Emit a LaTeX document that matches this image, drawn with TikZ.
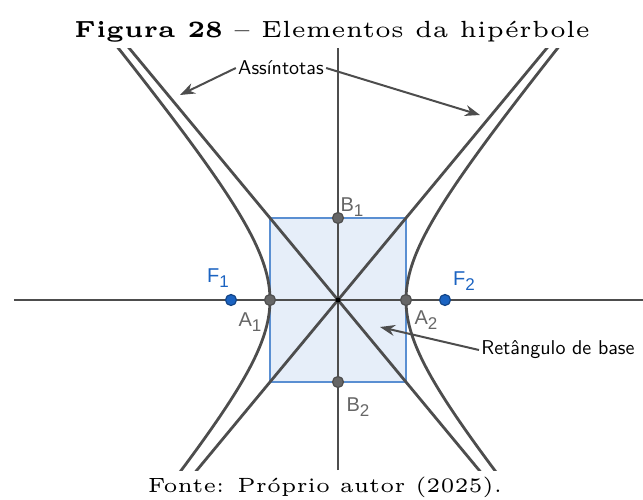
\documentclass[tikz,border=0pt]{standalone}
\usepackage{fontspec}
\newfontfamily\ptfont{Liberation Sans}
\newfontfamily\fontepeq[Ligatures=TeX, BoldFont=lmroman5-bold.otf]{lmroman5-regular.otf}
\usetikzlibrary{arrows.meta}
\definecolor{linha}{HTML}{4D4D4D}
\definecolor{azulret}{HTML}{5A8FD2}
\definecolor{fundoret}{HTML}{E6EEF9}
\definecolor{azulfoco}{HTML}{1B63C1}
\definecolor{cinzapt}{HTML}{666666}
\newcommand{\ind}[1]{\raisebox{-0.45ex}{\fontsize{8.5}{9}\selectfont #1}}
\tikzset{
  curva/.style={color=linha, line width=1.4pt},
  seta/.style={color=linha, line width=1pt, -{Stealth[length=7.5pt,width=5.5pt]}},
  ponto/.style={circle, draw=linha, fill=cinzapt, line width=0.6pt, inner sep=0pt, minimum size=5.5pt},
  foco/.style={circle, draw=azulfoco!70!black, fill=azulfoco, line width=0.6pt, inner sep=0pt, minimum size=5.5pt},
  rotpt/.style={text=cinzapt, font=\ptfont\fontsize{10}{12}\selectfont, inner sep=0pt},
  rotfoco/.style={text=azulfoco, font=\ptfont\fontsize{10}{12}\selectfont, inner sep=0pt},
  aviso/.style={font=\sffamily, inner sep=1pt}
}
\begin{document}
\begin{tikzpicture}[x=0.5pt, y=0.5pt]
        \useasboundingbox (-338,-199) rectangle (305,300);
        % retangulo de base
        \draw[fill=fundoret, draw=azulret, line width=1.2pt] (-68,-82) rectangle (68,82);
        \begin{scope}
        \clip (-324,-170) rectangle (305,252);
        % eixos
        \draw[curva] (-324,0) -- (305,0);
        \draw[curva] (0,-170) -- (0,252);
        % assintotas
        \draw[curva] (-230,-277.4) -- (230,277.4);
        \draw[curva] (230,-277.4) -- (-230,277.4);
        % hiperbole
        \draw[curva] plot[domain=-1.7:1.95, samples=90, smooth] ({68*cosh(\x)},{82*sinh(\x)});
        \draw[curva] plot[domain=-1.7:1.95, samples=90, smooth] ({-68*cosh(\x)},{82*sinh(\x)});
        \end{scope}
        % pontos
        \node[circle, fill=black, inner sep=0pt, minimum size=2.5pt] (O) at (0,0) {};
        \node[ponto] (A1) at (-68,0) {};
        \node[ponto] (A2) at (68,0) {};
        \node[ponto] (B1) at (0,82) {};
        \node[ponto] (B2) at (0,-82) {};
        \node[foco] (F1) at (-107,0) {};
        \node[foco] (F2) at (107,0) {};
        \node[rotpt] (lA1) at (-88,-22) {A\ind{1}};
        \node[rotpt] (lA2) at (88,-20) {A\ind{2}};
        \node[rotpt] (lB1) at (14,93) {B\ind{1}};
        \node[rotpt] (lB2) at (20,-107) {B\ind{2}};
        \node[rotfoco] (lF1) at (-120,22) {F\ind{1}};
        \node[rotfoco] (lF2) at (126,19) {F\ind{2}};
        % legendas com setas
        \node[aviso] (assint) at (-57,232) {Assíntotas};
        \coordinate (pontaE) at (-158,205);
        \coordinate (pontaD) at (142,185);
        \draw[seta] (assint.west) -- (pontaE);
        \draw[seta] (assint.east) -- (pontaD);
        \node[aviso, anchor=west] (ret) at (141,-50) {Retângulo de base};
        \coordinate (pontaR) at (42,-27);
        \draw[seta] (ret.west) -- (pontaR);
        % titulo e fonte
        \node[font=\fontepeq\fontsize{11.7}{14}\selectfont, anchor=base] (titulo) at (-6,263) {\textbf{Figura 28} -- Elementos da hipérbole};
        \node[font=\fontepeq\fontsize{10.3}{12}\selectfont, anchor=base] (fonte) at (-13,-192) {Fonte: Próprio autor (2025).};
        \end{tikzpicture}
\end{document}
